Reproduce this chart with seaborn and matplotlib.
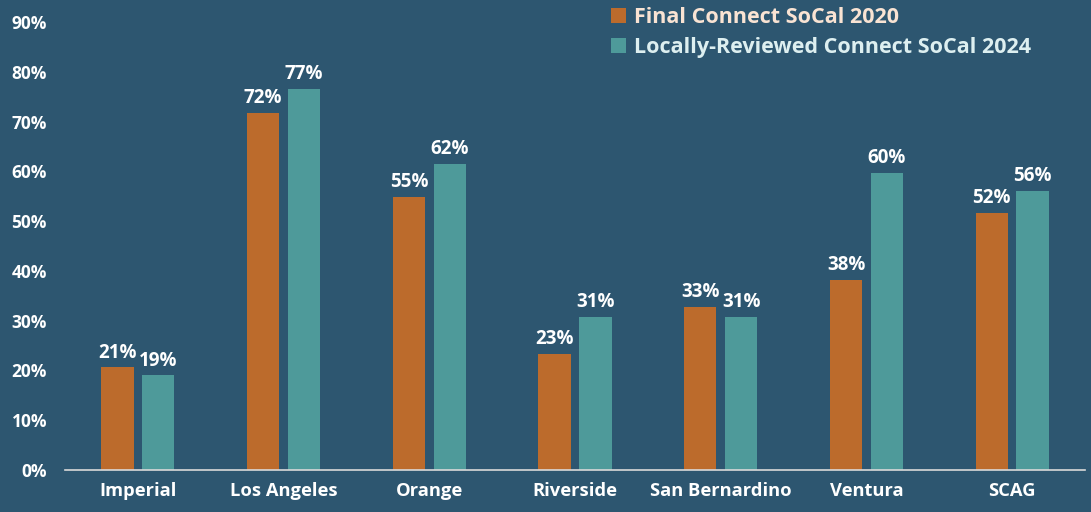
import matplotlib
matplotlib.use("Agg")
import matplotlib.pyplot as plt
import seaborn as sns
import pandas as pd

categories = ["Imperial", "Los Angeles", "Orange", "Riverside", "San Bernardino", "Ventura", "SCAG"]
series_names = ["Final Connect SoCal 2020", "Locally-Reviewed Connect SoCal 2024"]
values_2020 = [20.6, 71.8, 54.9, 23.4, 32.8, 38.1, 51.7]
values_2024 = [19.0, 76.6, 61.5, 30.8, 30.8, 59.7, 56.1]
yticks = [0, 10, 20, 30, 40, 50, 60, 70, 80, 90]

bg = "#2D5670"
c_orange = "#BC6B2C"
c_teal = "#4E9A9A"

df = pd.DataFrame({
    "County": categories * 2,
    "Series": [series_names[0]] * len(categories) + [series_names[1]] * len(categories),
    "Value": values_2020 + values_2024,
})

sns.set_theme(style="white")
plt.rcParams["font.family"] = ["Open Sans", "DejaVu Sans"]
plt.rcParams["font.weight"] = "bold"

fig = plt.figure(figsize=(10.91, 5.12), dpi=100, facecolor=bg)
ax = fig.add_axes([65 / 1091, 1 - 470 / 512, 1020 / 1091, 448 / 512])
ax.set_facecolor(bg)

sns.barplot(data=df, x="County", y="Value", hue="Series", order=categories,
            hue_order=series_names, palette=[c_orange, c_teal],
            width=0.56, gap=0.21, saturation=1, ax=ax, legend=True,
            linewidth=0)

for cont in ax.containers:
    for bar in cont:
        h = bar.get_height()
        ax.annotate(f"{h:.0f}%", (bar.get_x() + bar.get_width() / 2, h),
                    xytext=(0, 3.5), textcoords="offset points",
                    ha="center", va="bottom", color="white",
                    fontsize=13.5, fontweight="bold")

ax.set_xlim(-0.5, 6.5)
ax.set_ylim(0, 90)
ax.set_yticks(yticks)
ax.set_yticklabels([f"{t}%" for t in yticks], color="white", fontsize=12.5, fontweight="bold")
ax.set_xticks(range(len(categories)))
ax.set_xticklabels(categories, color="white", fontsize=13.2, fontweight="bold")
ax.tick_params(axis="both", length=0)
ax.tick_params(axis="y", pad=13)
ax.tick_params(axis="x", pad=9)
ax.set_xlabel("")
ax.set_ylabel("")
for s in ["top", "right", "left"]:
    ax.spines[s].set_visible(False)
ax.spines["bottom"].set_color("#D9D9D9")
ax.spines["bottom"].set_linewidth(1.2)

leg = ax.legend(loc="upper left", bbox_to_anchor=(598 / 1091, 1.012), bbox_transform=fig.transFigure,
                frameon=False, fontsize=15.5, handlelength=0.7, handleheight=0.7,
                handletextpad=0.35, labelspacing=0.45, borderaxespad=0.2)
for t, col in zip(leg.get_texts(), ["#F9E3D3", "#DDEFF0"]):
    t.set_color(col)
    t.set_fontweight("bold")
for h in leg.legend_handles:
    h.set_linewidth(0)

fig.savefig("out.png", dpi=100, facecolor=bg)
